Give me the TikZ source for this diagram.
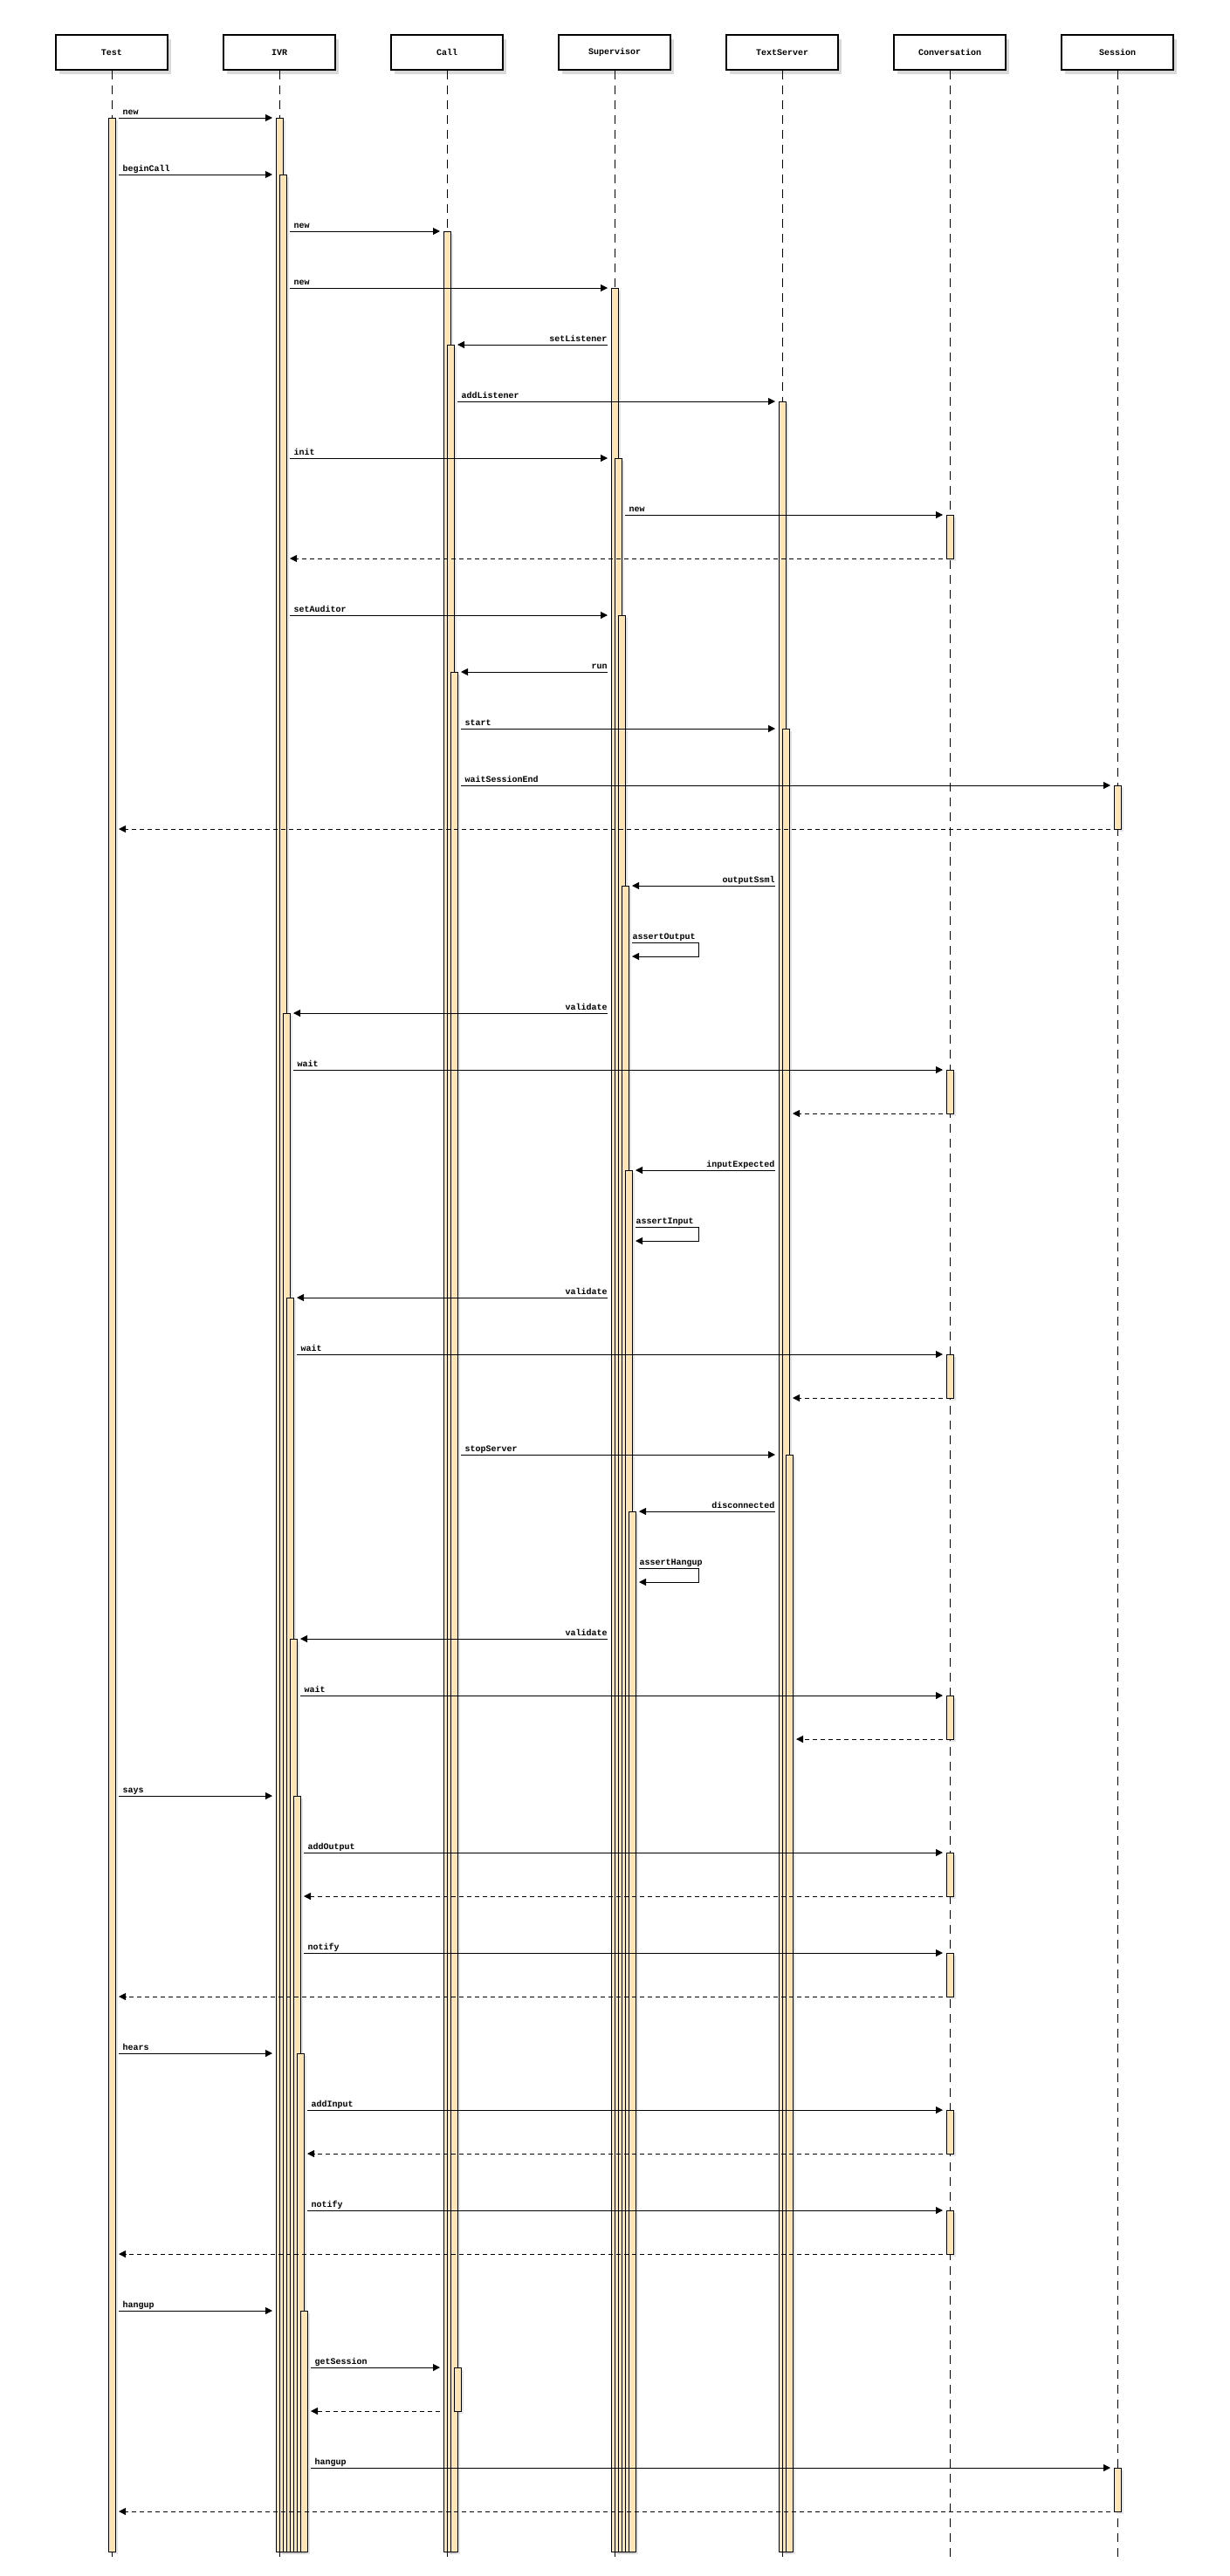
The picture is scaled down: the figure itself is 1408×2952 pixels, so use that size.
\documentclass[tikz,border=0pt]{standalone}
\usepackage{fontspec}
\newfontfamily\seqfont{Liberation Mono}
\usetikzlibrary{arrows.meta, shadows}

\definecolor{actfill}{RGB}{255,229,180}

\begin{document}
\begin{tikzpicture}[
    x=1pt, y=-1pt,
    head/.style={draw, line width=1.2pt, fill=white, minimum width=128pt, minimum height=40pt,
        font=\seqfont\bfseries\fontsize{10}{12}\selectfont,
        drop shadow={shadow xshift=4pt, shadow yshift=-5pt, opacity=0.3}},
    life/.style={line width=1pt, dash pattern=on 10pt off 7pt},
    act/.style={draw, line width=0.9pt, fill=actfill,
        drop shadow={shadow xshift=3pt, shadow yshift=-3pt, opacity=0.2}},
    msg/.style={->, line width=1pt},
    ret/.style={->, line width=1pt, dash pattern=on 5pt off 4pt},
    lblr/.style={pos=0, anchor=base west, xshift=4pt, yshift=4pt, inner sep=0pt,
        font=\seqfont\bfseries\fontsize{10}{12}\selectfont},
    lbll/.style={pos=0, anchor=base east, yshift=4pt, inner sep=0pt,
        font=\seqfont\bfseries\fontsize{10}{12}\selectfont},
    lbls/.style={pos=0, anchor=base west, yshift=4pt, inner sep=0pt,
        font=\seqfont\bfseries\fontsize{10}{12}\selectfont},
    >={Triangle[length=8pt, width=8pt]},
]
    \useasboundingbox (0,0) rectangle (1408,2952);

    \node[head] (test)         at (128,60)  {Test};
    \node[head] (ivr)          at (320,60)  {IVR};
    \node[head] (call)         at (512,60)  {Call};
    \node[head] (supervisor)   at (704,60)  {Supervisor};
    \node[head] (textserver)   at (896,60)  {TextServer};
    \node[head] (conversation) at (1088,60) {Conversation};
    \node[head] (session)      at (1280,60) {Session};

    \coordinate (testEnd)         at (128,2932);
    \coordinate (ivrEnd)          at (320,2932);
    \coordinate (callEnd)         at (512,2932);
    \coordinate (supervisorEnd)   at (704,2932);
    \coordinate (textserverEnd)   at (896,2932);
    \coordinate (conversationEnd) at (1088,2932);
    \coordinate (sessionEnd)      at (1280,2932);

    \draw[life] (test) -- (testEnd);
    \draw[life] (ivr) -- (ivrEnd);
    \draw[life] (call) -- (callEnd);
    \draw[life] (supervisor) -- (supervisorEnd);
    \draw[life] (textserver) -- (textserverEnd);
    \draw[life] (conversation) -- (conversationEnd);
    \draw[life] (session) -- (sessionEnd);

    % activations
    \draw[act] (124,135) rectangle (132,2924);

    \draw[act] (316,135) rectangle (324,2924);
    \draw[act] (320,200) rectangle (328,2924);
    \draw[act] (324,1161) rectangle (332,2924);
    \draw[act] (328,1487) rectangle (336,2924);
    \draw[act] (332,1878) rectangle (340,2924);
    \draw[act] (336,2058) rectangle (344,2924);
    \draw[act] (340,2353) rectangle (348,2924);
    \draw[act] (344,2648) rectangle (352,2924);

    \draw[act] (508,265) rectangle (516,2924);
    \draw[act] (512,395) rectangle (520,2924);
    \draw[act] (516,770) rectangle (524,2924);
    \draw[act] (520,2713) rectangle (528,2763);

    \draw[act] (700,330) rectangle (708,2924);
    \draw[act] (704,525) rectangle (712,2924);
    \draw[act] (708,705) rectangle (716,2924);
    \draw[act] (712,1015) rectangle (720,2924);
    \draw[act] (716,1341) rectangle (724,2924);
    \draw[act] (720,1732) rectangle (728,2924);

    \draw[act] (892,460) rectangle (900,2924);
    \draw[act] (896,835) rectangle (904,2924);
    \draw[act] (900,1667) rectangle (908,2924);

    \draw[act] (1084,590) rectangle (1092,640);
    \draw[act] (1084,1226) rectangle (1092,1276);
    \draw[act] (1084,1552) rectangle (1092,1602);
    \draw[act] (1084,1943) rectangle (1092,1993);
    \draw[act] (1084,2123) rectangle (1092,2173);
    \draw[act] (1084,2238) rectangle (1092,2288);
    \draw[act] (1084,2418) rectangle (1092,2468);
    \draw[act] (1084,2533) rectangle (1092,2583);

    \draw[act] (1276,900) rectangle (1284,950);
    \draw[act] (1276,2828) rectangle (1284,2878);

    % messages
    \coordinate (m1a) at (136,135);   \coordinate (m1b) at (312,135);
    \coordinate (m2a) at (136,200);   \coordinate (m2b) at (312,200);
    \coordinate (m3a) at (332,265);   \coordinate (m3b) at (504,265);
    \coordinate (m4a) at (332,330);   \coordinate (m4b) at (696,330);
    \coordinate (m5a) at (696,395);   \coordinate (m5b) at (524,395);
    \coordinate (m6a) at (524,460);   \coordinate (m6b) at (888,460);
    \coordinate (m7a) at (332,525);   \coordinate (m7b) at (696,525);
    \coordinate (m8a) at (716,590);   \coordinate (m8b) at (1080,590);
    \coordinate (m9a) at (1080,640);  \coordinate (m9b) at (332,640);
    \coordinate (m10a) at (332,705);  \coordinate (m10b) at (696,705);
    \coordinate (m11a) at (696,770);  \coordinate (m11b) at (528,770);
    \coordinate (m12a) at (528,835);  \coordinate (m12b) at (888,835);
    \coordinate (m13a) at (528,900);  \coordinate (m13b) at (1272,900);
    \coordinate (m14a) at (1272,950); \coordinate (m14b) at (136,950);
    \coordinate (m15a) at (888,1015); \coordinate (m15b) at (724,1015);
    \coordinate (m16a) at (724,1080); \coordinate (m16c) at (800,1080); \coordinate (m16b) at (724,1096);
    \coordinate (m17a) at (696,1161); \coordinate (m17b) at (336,1161);
    \coordinate (m18a) at (336,1226); \coordinate (m18b) at (1080,1226);
    \coordinate (m19a) at (1080,1276); \coordinate (m19b) at (908,1276);
    \coordinate (m20a) at (888,1341); \coordinate (m20b) at (728,1341);
    \coordinate (m21a) at (728,1406); \coordinate (m21c) at (800,1406); \coordinate (m21b) at (728,1422);
    \coordinate (m22a) at (696,1487); \coordinate (m22b) at (340,1487);
    \coordinate (m23a) at (340,1552); \coordinate (m23b) at (1080,1552);
    \coordinate (m24a) at (1080,1602); \coordinate (m24b) at (908,1602);
    \coordinate (m25a) at (528,1667); \coordinate (m25b) at (888,1667);
    \coordinate (m26a) at (888,1732); \coordinate (m26b) at (732,1732);
    \coordinate (m27a) at (732,1797); \coordinate (m27c) at (800,1797); \coordinate (m27b) at (732,1813);
    \coordinate (m28a) at (696,1878); \coordinate (m28b) at (344,1878);
    \coordinate (m29a) at (344,1943); \coordinate (m29b) at (1080,1943);
    \coordinate (m30a) at (1080,1993); \coordinate (m30b) at (912,1993);
    \coordinate (m31a) at (136,2058); \coordinate (m31b) at (312,2058);
    \coordinate (m32a) at (348,2123); \coordinate (m32b) at (1080,2123);
    \coordinate (m33a) at (1080,2173); \coordinate (m33b) at (348,2173);
    \coordinate (m34a) at (348,2238); \coordinate (m34b) at (1080,2238);
    \coordinate (m35a) at (1080,2288); \coordinate (m35b) at (136,2288);
    \coordinate (m36a) at (136,2353); \coordinate (m36b) at (312,2353);
    \coordinate (m37a) at (352,2418); \coordinate (m37b) at (1080,2418);
    \coordinate (m38a) at (1080,2468); \coordinate (m38b) at (352,2468);
    \coordinate (m39a) at (352,2533); \coordinate (m39b) at (1080,2533);
    \coordinate (m40a) at (1080,2583); \coordinate (m40b) at (136,2583);
    \coordinate (m41a) at (136,2648); \coordinate (m41b) at (312,2648);
    \coordinate (m42a) at (356,2713); \coordinate (m42b) at (504,2713);
    \coordinate (m43a) at (504,2763); \coordinate (m43b) at (356,2763);
    \coordinate (m44a) at (356,2828); \coordinate (m44b) at (1272,2828);
    \coordinate (m45a) at (1272,2878); \coordinate (m45b) at (136,2878);

    \draw[msg] (m1a) -- node[lblr] {new} (m1b);
    \draw[msg] (m2a) -- node[lblr] {beginCall} (m2b);
    \draw[msg] (m3a) -- node[lblr] {new} (m3b);
    \draw[msg] (m4a) -- node[lblr] {new} (m4b);
    \draw[msg] (m5a) -- node[lbll] {setListener} (m5b);
    \draw[msg] (m6a) -- node[lblr] {addListener} (m6b);
    \draw[msg] (m7a) -- node[lblr] {init} (m7b);
    \draw[msg] (m8a) -- node[lblr] {new} (m8b);
    \draw[ret] (m9a) -- (m9b);
    \draw[msg] (m10a) -- node[lblr] {setAuditor} (m10b);
    \draw[msg] (m11a) -- node[lbll] {run} (m11b);
    \draw[msg] (m12a) -- node[lblr] {start} (m12b);
    \draw[msg] (m13a) -- node[lblr] {waitSessionEnd} (m13b);
    \draw[ret] (m14a) -- (m14b);

    \draw[msg] (m15a) -- node[lbll] {outputSsml} (m15b);
    \draw[msg] (m16a) -- node[lbls] {assertOutput} (m16c) |- (m16b);
    \draw[msg] (m17a) -- node[lbll] {validate} (m17b);
    \draw[msg] (m18a) -- node[lblr] {wait} (m18b);
    \draw[ret] (m19a) -- (m19b);

    \draw[msg] (m20a) -- node[lbll] {inputExpected} (m20b);
    \draw[msg] (m21a) -- node[lbls] {assertInput} (m21c) |- (m21b);
    \draw[msg] (m22a) -- node[lbll] {validate} (m22b);
    \draw[msg] (m23a) -- node[lblr] {wait} (m23b);
    \draw[ret] (m24a) -- (m24b);

    \draw[msg] (m25a) -- node[lblr] {stopServer} (m25b);
    \draw[msg] (m26a) -- node[lbll] {disconnected} (m26b);
    \draw[msg] (m27a) -- node[lbls] {assertHangup} (m27c) |- (m27b);
    \draw[msg] (m28a) -- node[lbll] {validate} (m28b);
    \draw[msg] (m29a) -- node[lblr] {wait} (m29b);
    \draw[ret] (m30a) -- (m30b);

    \draw[msg] (m31a) -- node[lblr] {says} (m31b);
    \draw[msg] (m32a) -- node[lblr] {addOutput} (m32b);
    \draw[ret] (m33a) -- (m33b);
    \draw[msg] (m34a) -- node[lblr] {notify} (m34b);
    \draw[ret] (m35a) -- (m35b);

    \draw[msg] (m36a) -- node[lblr] {hears} (m36b);
    \draw[msg] (m37a) -- node[lblr] {addInput} (m37b);
    \draw[ret] (m38a) -- (m38b);
    \draw[msg] (m39a) -- node[lblr] {notify} (m39b);
    \draw[ret] (m40a) -- (m40b);

    \draw[msg] (m41a) -- node[lblr] {hangup} (m41b);
    \draw[msg] (m42a) -- node[lblr] {getSession} (m42b);
    \draw[ret] (m43a) -- (m43b);
    \draw[msg] (m44a) -- node[lblr] {hangup} (m44b);
    \draw[ret] (m45a) -- (m45b);

\end{tikzpicture}
\end{document}
